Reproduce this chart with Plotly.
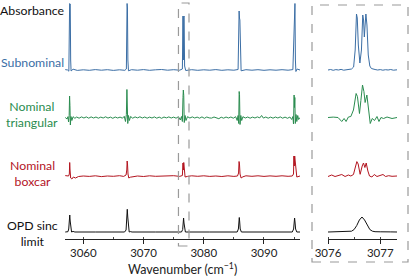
import plotly.graph_objects as go

# ---------------- data (absorbance, arbitrary units) ----------------
SUB_X = [3057.0, 3057.4, 3057.6, 3057.68, 3057.73, 3057.78, 3057.83, 3057.9, 3057.97, 3058.3,
         3059.0, 3060.0, 3061.0, 3062.0, 3063.0, 3064.0, 3065.0, 3066.0, 3066.9, 3067.15,
         3067.22, 3067.27, 3067.33, 3067.4, 3067.5, 3068.0, 3069.0, 3070.0, 3071.0, 3072.0,
         3073.0, 3074.0, 3075.0, 3076.0, 3076.45, 3076.55, 3076.62, 3076.68, 3076.73, 3076.82,
         3077.0, 3078.0, 3079.0, 3080.0, 3081.0, 3082.0, 3083.0, 3084.0, 3085.0, 3085.7,
         3085.82, 3085.87, 3085.93, 3086.0, 3086.07, 3086.2, 3087.0, 3088.0, 3089.0, 3090.0,
         3091.0, 3092.0, 3093.0, 3094.0, 3094.8, 3094.95, 3095.02, 3095.08, 3095.14, 3095.22,
         3095.3, 3095.5, 3095.98]
SUB_Y = [0.004, 0.0, -0.012, 0.3, 0.665, 0.64, 0.66, 0.1, -0.01, 0.008,
         -0.004, 0.002, -0.003, 0.004, -0.002, 0.003, -0.004, 0.002, -0.003, 0.01,
         0.5, 0.665, 0.62, 0.1, -0.008, 0.003, -0.002, 0.004, -0.003, 0.002,
         0.005, -0.002, 0.003, -0.002, 0.01, 0.54, 0.1, 0.53, 0.54, 0.04,
         -0.005, 0.003, -0.003, 0.002, -0.002, 0.004, -0.003, 0.002, -0.002, 0.005,
         0.4, 0.59, 0.52, 0.5, 0.05, -0.008, 0.003, -0.002, 0.003, -0.003,
         0.002, -0.002, 0.003, -0.002, 0.004, 0.4, 0.665, 0.55, 0.665, 0.1,
         -0.015, 0.01, 0.0]

TRI_X = [3057.0, 3057.3, 3057.45, 3057.55, 3057.65, 3057.72, 3057.78, 3057.85, 3057.95, 3058.1,
         3058.3, 3058.6, 3058.9, 3059.3, 3059.7, 3060.1, 3060.5, 3060.9, 3061.3, 3061.7,
         3062.1, 3062.5, 3062.9, 3063.3, 3063.7, 3064.1, 3064.5, 3064.9, 3065.3, 3065.7,
         3066.1, 3066.5, 3066.8, 3067.0, 3067.15, 3067.24, 3067.3, 3067.38, 3067.5, 3067.65,
         3067.85, 3068.2, 3068.6, 3069.0, 3069.4, 3069.8, 3070.2, 3070.6, 3071.0, 3071.4,
         3071.8, 3072.2, 3072.6, 3073.0, 3073.4, 3073.8, 3074.2, 3074.6, 3075.0, 3075.4,
         3075.8, 3076.1, 3076.3, 3076.45, 3076.55, 3076.61, 3076.68, 3076.76, 3076.9, 3077.05,
         3077.3, 3077.7, 3078.1, 3078.5, 3078.9, 3079.3, 3079.7, 3080.1, 3080.5, 3080.9,
         3081.3, 3081.7, 3082.1, 3082.5, 3082.9, 3083.3, 3083.7, 3084.1, 3084.5, 3084.9,
         3085.3, 3085.55, 3085.7, 3085.8, 3085.88, 3085.94, 3086.02, 3086.15, 3086.3, 3086.5,
         3086.9, 3087.3, 3087.7, 3088.1, 3088.5, 3088.9, 3089.3, 3089.6, 3089.9, 3090.3,
         3090.7, 3091.1, 3091.5, 3091.9, 3092.3, 3092.7, 3093.1, 3093.5, 3093.9, 3094.3,
         3094.6, 3094.8, 3094.9, 3095.0, 3095.06, 3095.12, 3095.2, 3095.32, 3095.45, 3095.6,
         3095.75, 3095.98]
TRI_Y = [0.0, -0.015, 0.008, -0.045, 0.02, 0.215, 0.12, -0.075, 0.01, -0.03,
         0.008, -0.008, 0.005, -0.007, 0.006, -0.005, 0.006, -0.007, 0.006, -0.005,
         0.005, -0.007, 0.004, -0.005, 0.007, -0.006, 0.004, -0.008, 0.005, -0.005,
         0.004, -0.007, 0.012, -0.04, 0.03, 0.28, 0.2, -0.06, 0.02, -0.03,
         0.01, -0.007, 0.006, -0.004, 0.007, -0.005, 0.005, -0.007, 0.004, -0.005,
         0.006, -0.007, 0.004, -0.008, 0.005, -0.004, 0.006, -0.005, 0.004, -0.007,
         0.008, -0.025, 0.01, -0.04, 0.2, 0.275, 0.22, -0.05, 0.02, -0.03,
         0.008, -0.005, 0.006, -0.005, 0.004, -0.007, 0.006, -0.008, 0.005, -0.004,
         -0.006, 0.005, -0.007, -0.012, 0.003, -0.007, 0.005, -0.005, 0.005, -0.007,
         0.008, -0.03, 0.02, -0.06, 0.26, 0.23, -0.07, 0.02, -0.03, 0.008,
         -0.005, 0.005, -0.007, 0.004, -0.005, 0.006, -0.004, 0.02, -0.006, 0.005,
         -0.007, 0.004, -0.007, 0.005, -0.005, 0.006, -0.007, 0.004, -0.008, 0.005,
         -0.02, 0.01, -0.065, 0.225, 0.1, 0.2, -0.06, 0.03, -0.04, 0.02,
         -0.02, 0.0]

BOX_X = [3057.0, 3057.55, 3057.68, 3057.74, 3057.8, 3057.9, 3058.1, 3058.35, 3058.7, 3059.2,
         3060.0, 3061.0, 3062.0, 3063.0, 3064.0, 3065.0, 3066.0, 3066.7, 3067.1, 3067.22,
         3067.28, 3067.34, 3067.42, 3067.55, 3067.8, 3068.3, 3069.0, 3070.0, 3071.0, 3072.0,
         3073.0, 3074.0, 3075.0, 3076.0, 3076.45, 3076.55, 3076.62, 3076.68, 3076.76, 3076.9,
         3077.3, 3078.0, 3079.0, 3080.0, 3081.0, 3082.0, 3083.0, 3084.0, 3085.0, 3085.6,
         3085.78, 3085.86, 3085.93, 3086.02, 3086.2, 3086.5, 3087.0, 3088.0, 3089.0, 3090.0,
         3091.0, 3092.0, 3093.0, 3094.0, 3094.7, 3094.9, 3094.97, 3095.03, 3095.1, 3095.18,
         3095.28, 3095.45, 3095.98]
BOX_Y = [0.004, 0.0, 0.02, 0.135, 0.06, -0.02, -0.03, -0.01, -0.02, -0.005,
         0.0, -0.004, 0.002, -0.006, 0.0, -0.003, 0.003, -0.004, 0.01, 0.06,
         0.15, 0.12, 0.02, -0.02, -0.012, -0.004, 0.0, -0.005, 0.002, -0.003,
         0.0, -0.004, 0.003, -0.004, 0.005, 0.13, 0.06, 0.135, 0.03, -0.01,
         -0.004, 0.002, -0.003, 0.002, -0.004, 0.0, -0.005, 0.002, -0.004, 0.0,
         0.03, 0.145, 0.12, 0.02, -0.02, -0.008, 0.002, -0.003, 0.002, -0.004,
         0.001, -0.003, 0.002, -0.003, 0.0, 0.02, 0.2, 0.1, 0.2, 0.15,
         0.02, -0.01, 0.0]

OPD_X = [3057.0, 3057.45, 3057.58, 3057.68, 3057.75, 3057.82, 3057.92, 3058.05, 3058.3, 3058.6,
         3062.0, 3066.85, 3067.1, 3067.2, 3067.3, 3067.38, 3067.48, 3067.62, 3067.8, 3068.1,
         3072.0, 3076.3, 3076.5, 3076.58, 3076.65, 3076.72, 3076.8, 3076.95, 3081.0, 3085.55,
         3085.75, 3085.83, 3085.9, 3085.97, 3086.05, 3086.25, 3090.0, 3094.7, 3094.92, 3095.0,
         3095.08, 3095.15, 3095.25, 3095.45, 3095.98]
OPD_Y = [0.0, 0.003, 0.03, 0.12, 0.17, 0.11, 0.025, 0.0, 0.006, 0.0,
         0.0, 0.0, 0.02, 0.1, 0.227, 0.15, 0.03, 0.0, 0.004, 0.0,
         0.0, 0.0, 0.025, 0.09, 0.14, 0.09, 0.025, 0.0, 0.0, 0.0,
         0.03, 0.1, 0.145, 0.1, 0.03, 0.0, 0.0, 0.0, 0.03, 0.1,
         0.14, 0.1, 0.03, 0.0, 0.0]

# ---- zoomed R(5) manifold ----
Z_SUB_X = [3076.0, 3076.05, 3076.1, 3076.15, 3076.2, 3076.25, 3076.3, 3076.35, 3076.4, 3076.45,
           3076.49, 3076.52, 3076.545, 3076.56, 3076.58, 3076.61, 3076.64, 3076.665, 3076.68, 3076.695,
           3076.71, 3076.725, 3076.745, 3076.77, 3076.8, 3076.83, 3076.9, 3076.95, 3077.0, 3077.05,
           3077.1, 3077.15, 3077.2, 3077.25, 3077.32]
Z_SUB_Y = [0.0, 0.005, -0.003, 0.004, 0.0, 0.006, -0.002, 0.004, 0.003, 0.01,
           0.03, 0.2, 0.56, 0.52, 0.25, 0.07, 0.2, 0.55, 0.5, 0.33,
           0.45, 0.56, 0.45, 0.15, 0.04, 0.015, 0.005, 0.0, 0.004, -0.002,
           0.003, 0.0, 0.005, -0.002, 0.002]

Z_TRI_X = [3076.0, 3076.1, 3076.192, 3076.231, 3076.263, 3076.308, 3076.346, 3076.39, 3076.437, 3076.487,
           3076.538, 3076.563, 3076.602, 3076.629, 3076.66, 3076.687, 3076.71, 3076.744, 3076.783, 3076.808,
           3076.846, 3076.89, 3076.937, 3076.975, 3077.013, 3077.063, 3077.129, 3077.225, 3077.32]
Z_TRI_Y = [0.0, 0.004, 0.0, -0.025, -0.04, -0.01, -0.04, 0.005, 0.01, 0.075,
           0.24, 0.21, 0.04, 0.17, 0.325, 0.26, 0.15, 0.225, 0.04, -0.06,
           -0.01, -0.03, 0.01, -0.04, 0.0, -0.01, 0.005, -0.01, 0.0]

Z_BOX_X = [3076.0, 3076.07, 3076.135, 3076.2, 3076.263, 3076.327, 3076.39, 3076.437, 3076.487, 3076.519,
           3076.552, 3076.577, 3076.615, 3076.654, 3076.679, 3076.706, 3076.731, 3076.763, 3076.794, 3076.84,
           3076.885, 3076.937, 3077.0, 3077.052, 3077.102, 3077.16, 3077.225, 3077.32]
Z_BOX_Y = [-0.005, 0.01, -0.005, 0.005, 0.015, -0.005, 0.01, 0.0, 0.015, 0.08,
           0.144, 0.12, 0.017, 0.1, 0.13, 0.085, 0.13, 0.05, 0.0, -0.01,
           0.015, -0.005, 0.01, 0.015, -0.005, 0.003, -0.003, 0.0]

Z_OPD_X = [3076.0, 3076.1, 3076.2, 3076.3, 3076.4, 3076.45, 3076.5, 3076.55, 3076.6, 3076.65,
           3076.7, 3076.75, 3076.8, 3076.85, 3076.9, 3077.0, 3077.1, 3077.2, 3077.32]
Z_OPD_Y = [0.0, 0.002, -0.002, 0.001, 0.003, 0.008, 0.025, 0.065, 0.12, 0.15,
           0.12, 0.065, 0.025, 0.008, 0.003, 0.002, -0.002, 0.001, 0.0]

MAIN_TICKS = [3060, 3070, 3080, 3090]
ZOOM_TICKS = [3076, 3077]
LABELS = ["Subnominal", "Nominal<br>triangular", "Nominal<br>boxcar", "OPD sinc<br>limit"]

# ---------------- styling / layout ----------------
COLORS = ["#3b6ea5", "#2a8c4f", "#b3141f", "#111111"]
OFFSETS = [1.69, 1.215, 0.63, 0.07]   # vertical stacking of the traces
FONT = "Lato"

main = [(SUB_X, SUB_Y), (TRI_X, TRI_Y), (BOX_X, BOX_Y), (OPD_X, OPD_Y)]
zoom = [(Z_SUB_X, Z_SUB_Y), (Z_TRI_X, Z_TRI_Y), (Z_BOX_X, Z_BOX_Y), (Z_OPD_X, Z_OPD_Y)]

fig = go.Figure()
for (xs, ys), c, off in zip(main, COLORS, OFFSETS):
    fig.add_trace(go.Scatter(x=xs, y=[v + off for v in ys], mode="lines",
                             line=dict(color=c, width=1), xaxis="x", yaxis="y",
                             showlegend=False, hoverinfo="skip"))
for (xs, ys), c, off in zip(zoom, COLORS, OFFSETS):
    fig.add_trace(go.Scatter(x=xs, y=[v + off for v in ys], mode="lines",
                             line=dict(color=c, width=1), xaxis="x2", yaxis="y2",
                             showlegend=False, hoverinfo="skip"))

W, H = 415, 278
ML, MR, MT, MB = 65, 18, 3, 39
PW = W - ML - MR
PH = H - MT - MB

def px_x(p):
    return (p - ML) / PW

def px_y(p):
    return (H - MB - p) / PH

YR = [0, 2.36]
axis_common = dict(showline=True, linecolor="#222", linewidth=1, ticks="outside",
                   ticklen=4, tickcolor="#222", showgrid=False, zeroline=False,
                   ticklabelstandoff=-1,
                   tickfont=dict(family=FONT, size=11.5, color="#222"))

fig.update_layout(
    width=W, height=H, margin=dict(l=ML, r=MR, t=MT, b=MB),
    paper_bgcolor="white", plot_bgcolor="white",
    xaxis=dict(domain=[0, px_x(300)], range=[3056.96, 3095.98], tickvals=MAIN_TICKS,
               minor=dict(ticks="inside", ticklen=2, tickcolor="#444", dtick=5, tick0=3055),
               **axis_common),
    xaxis2=dict(domain=[px_x(328), 1], range=[3076, 3077.32], tickvals=ZOOM_TICKS,
                minor=dict(ticks="inside", ticklen=2, tickcolor="#444", dtick=0.5, tick0=3076),
                anchor="y2", **axis_common),
    yaxis=dict(range=YR, visible=False, fixedrange=True),
    yaxis2=dict(range=YR, visible=False, anchor="x2", domain=[0, 1]),
)

# dashed boxes
fig.add_shape(type="rect", xref="x", yref="paper", x0=3075.8, x1=3077.55,
              y0=px_y(246), y1=px_y(3), line=dict(color="#9a9a9a", width=1.2, dash="dash"))
fig.add_shape(type="rect", xref="paper", yref="paper", x0=px_x(312), x1=px_x(408),
              y0=px_y(262), y1=px_y(5), line=dict(color="#9a9a9a", width=1.2, dash="dash"))

# axis title
fig.add_annotation(text="Wavenumber (cm<sup>−1</sup>)", xref="paper", yref="paper",
                   x=px_x(182.5), y=px_y(268), xanchor="center", yanchor="middle",
                   showarrow=False, font=dict(family=FONT, size=12.5, color="#222"))

# labels
fig.add_annotation(text="Absorbance", xref="paper", yref="paper", x=px_x(32), y=px_y(10),
                   xanchor="center", yanchor="middle", showarrow=False,
                   font=dict(family=FONT, size=12.3, color="#111"))
label_y = [62, 115, 173.5, 233.5]
for lab, c, yy in zip(LABELS, COLORS, label_y):
    fig.add_annotation(text=lab, xref="paper", yref="paper", x=px_x(32), y=px_y(yy),
                       xanchor="center", yanchor="middle", align="center", showarrow=False,
                       font=dict(family=FONT, size=12.3, color=c))

fig.write_html("out.html", config={"displayModeBar": False},
               post_script="document.body.style.margin='0';")
